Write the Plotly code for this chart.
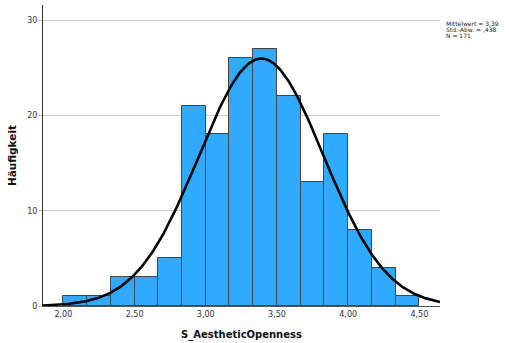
import numpy as np
import plotly.graph_objects as go

# Data
bin_start = 2.0
bin_width = 1.0 / 6.0
counts = [1, 1, 3, 3, 5, 21, 18, 26, 27, 22, 13, 18, 8, 4, 1]
mean_val = 3.39
sd_val = 0.438
n_val = 171
x_ticks = [2.0, 2.5, 3.0, 3.5, 4.0, 4.5]
y_ticks = [0, 10, 20, 30]
stats_lines = ["Mittelwert = 3,39", "Std.-Abw. = ,438", "N = 171"]

centers = [bin_start + bin_width * (i + 0.5) for i in range(len(counts))]

x_range = [1.857, 4.645]
xc = np.linspace(x_range[0], x_range[1], 400)
yc = n_val * bin_width / (sd_val * np.sqrt(2 * np.pi)) * np.exp(-0.5 * ((xc - mean_val) / sd_val) ** 2)

fig = go.Figure()
fig.add_trace(go.Bar(
    x=centers, y=counts, width=bin_width,
    marker=dict(color="rgb(46,171,255)", line=dict(color="#444444", width=1)),
    showlegend=False, hoverinfo="skip",
))
fig.add_trace(go.Scatter(
    x=xc, y=yc, mode="lines",
    line=dict(color="black", width=2.6),
    showlegend=False, hoverinfo="skip",
))

font_family = "DejaVu Sans"
fig.update_layout(
    width=509, height=343,
    margin=dict(l=43, r=69, t=5, b=37),
    plot_bgcolor="white", paper_bgcolor="white",
    separators=", ",
    bargap=0,
    font=dict(family=font_family, color="#222222"),
    xaxis=dict(
        range=x_range, tickvals=x_ticks, tickformat=".2f",
        showgrid=False, zeroline=False,
        showline=True, linecolor="#555555", linewidth=1,
        ticks="", tickfont=dict(size=8, color="#333333"),
        title=dict(text="<b>S_AestheticOpenness</b>", font=dict(size=10, color="#111111"), standoff=13),
    ),
    yaxis=dict(
        range=[0, 31.58], tickvals=y_ticks,
        showgrid=True, gridcolor="#cccccc", gridwidth=1,
        zeroline=False,
        showline=True, linecolor="#333333", linewidth=1,
        ticks="outside", ticklen=3, tickcolor="#bbbbbb",
        tickfont=dict(size=8, color="#333333"),
        title=dict(text="<b>Häufigkeit</b>", font=dict(size=10.5, color="#111111"), standoff=8),
    ),
)

ys = [23.5, 29.5, 35.5]
for txt, ypx in zip(stats_lines, ys):
    fig.add_annotation(
        text=txt, xref="paper", yref="paper",
        x=(444 - 43) / 397.0, y=1 - (ypx - 5) / 301.0,
        xanchor="left", yanchor="middle", showarrow=False,
        font=dict(size=6, color="#222222", family=font_family),
    )

fig.write_html("out.html")
